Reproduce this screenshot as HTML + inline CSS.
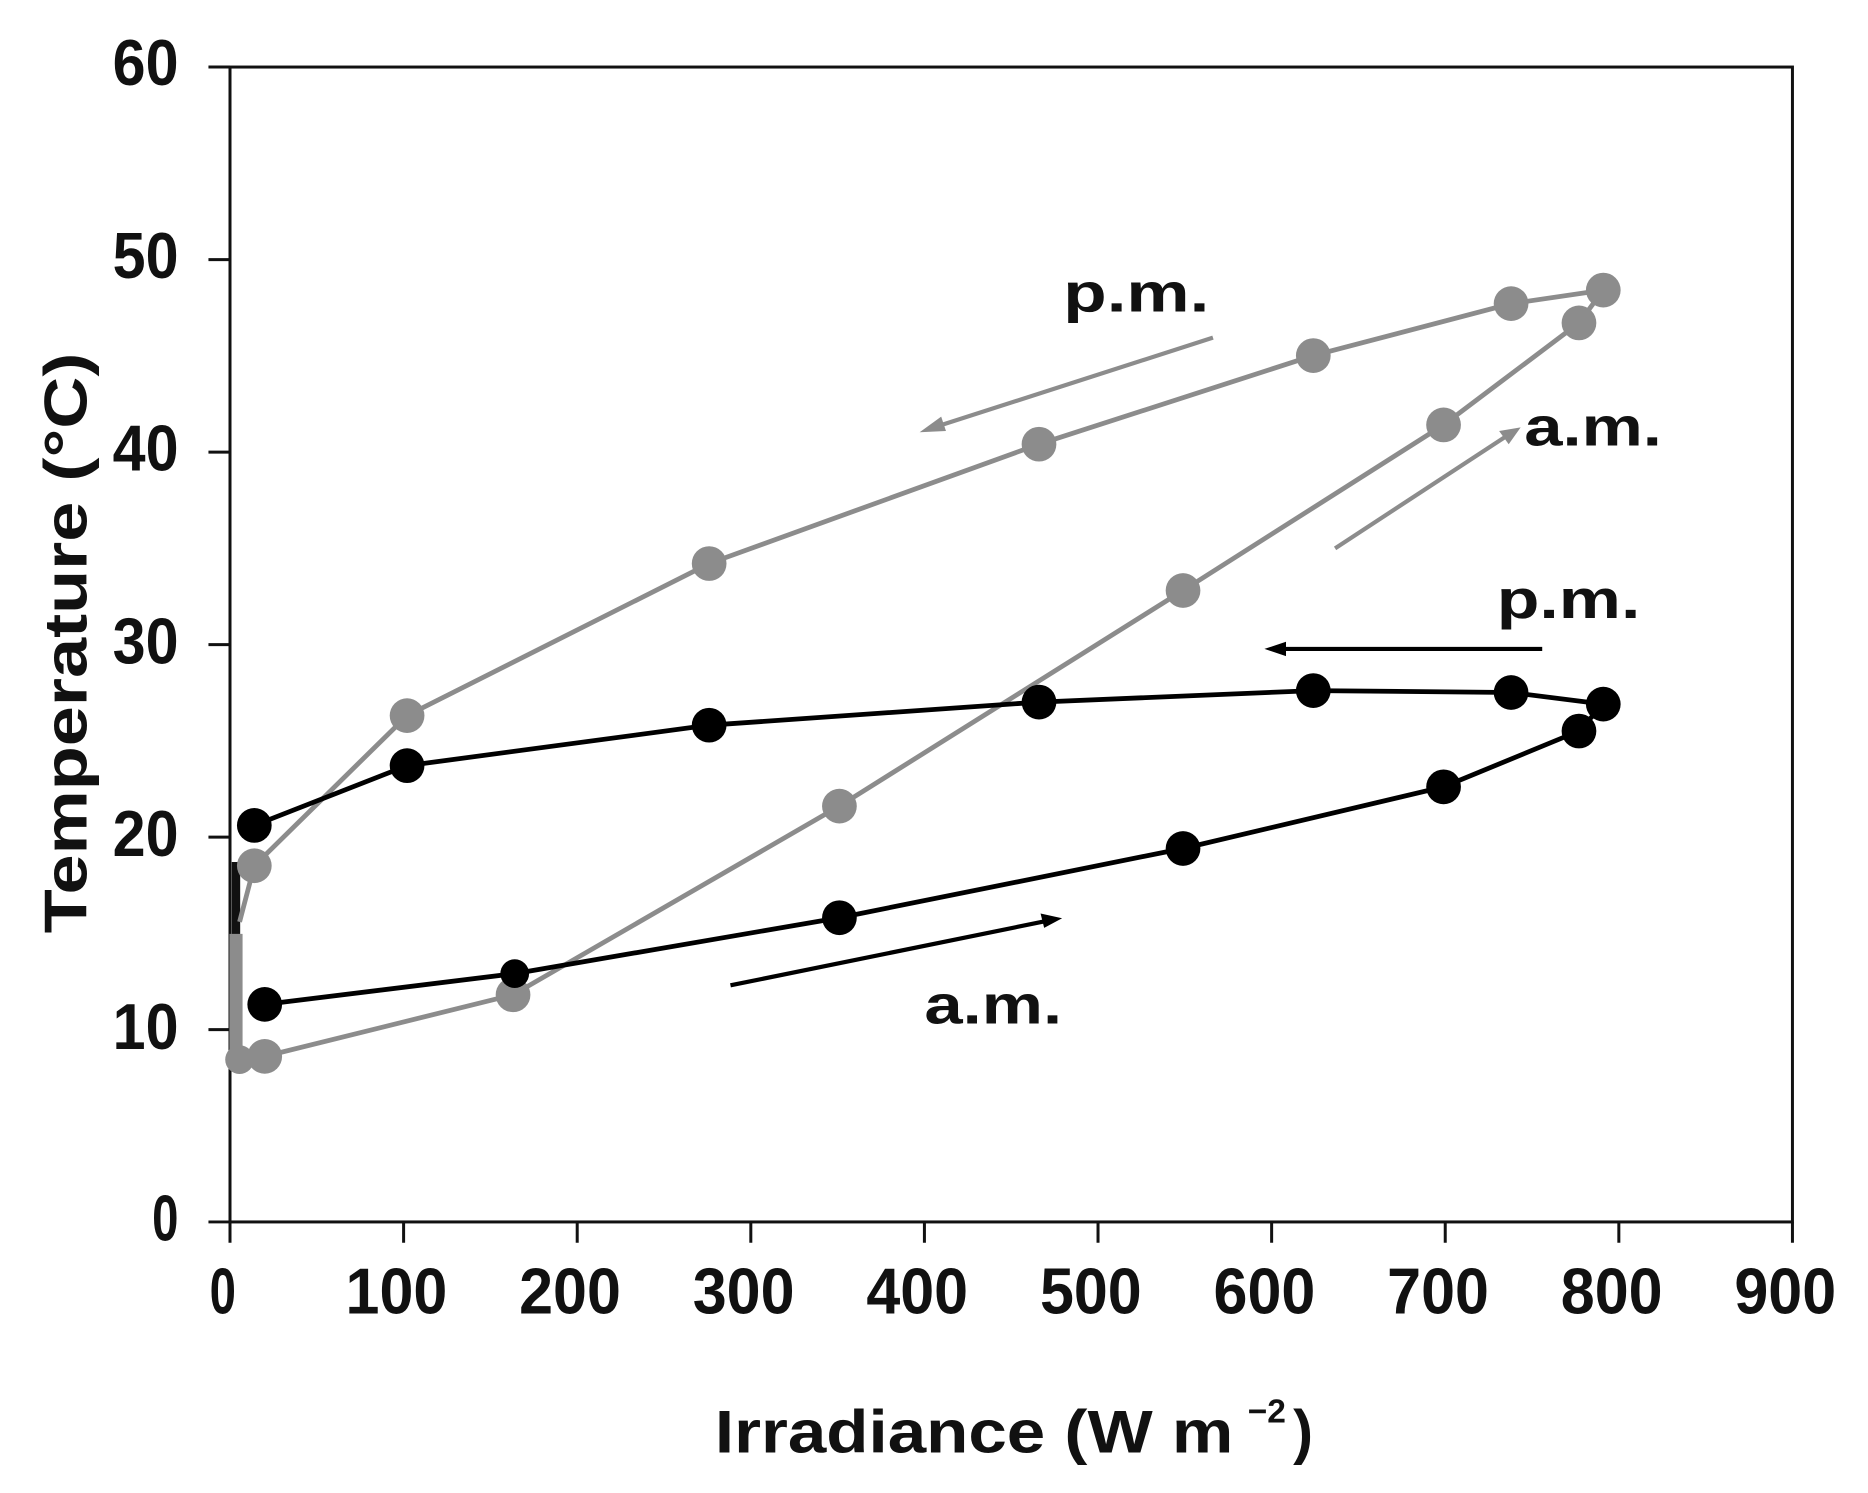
<!DOCTYPE html>
<html><head><meta charset="utf-8"><style>html,body{margin:0;padding:0;background:#fff}svg{display:block}</style></head>
<body>
<svg width="1868" height="1493" viewBox="0 0 1560 1247" xmlns="http://www.w3.org/2000/svg" font-family="Liberation Sans, sans-serif" font-weight="bold">
<rect width="1560" height="1247" fill="#fff"/>
<g stroke="#111" stroke-width="2.5" fill="none">
<rect x="192" y="56" width="1305" height="964.6"/>
<path d="M174 56H192M174 216.8H192M174 377.6H192M174 538.4H192M174 699.2H192M174 860H192M174 1020.6H192"/>
<path d="M192 1020.6V1038M337 1020.6V1038M482 1020.6V1038M627 1020.6V1038M772 1020.6V1038M917 1020.6V1038M1062 1020.6V1038M1207 1020.6V1038M1352 1020.6V1038M1497 1020.6V1038"/>
</g>
<g font-size="54" fill="#111" text-anchor="end">
<text x="149" y="71" textLength="55" lengthAdjust="spacingAndGlyphs">60</text>
<text x="149" y="232" textLength="55" lengthAdjust="spacingAndGlyphs">50</text>
<text x="149" y="393" textLength="55" lengthAdjust="spacingAndGlyphs">40</text>
<text x="149" y="554" textLength="55" lengthAdjust="spacingAndGlyphs">30</text>
<text x="149" y="715" textLength="55" lengthAdjust="spacingAndGlyphs">20</text>
<text x="149" y="876" textLength="55" lengthAdjust="spacingAndGlyphs">10</text>
<text x="149" y="1036" textLength="22" lengthAdjust="spacingAndGlyphs">0</text>
</g>
<g font-size="54" fill="#111" text-anchor="middle">
<text x="186" y="1097" textLength="22" lengthAdjust="spacingAndGlyphs">0</text>
<text x="331" y="1097" textLength="85" lengthAdjust="spacingAndGlyphs">100</text>
<text x="476" y="1097" textLength="85" lengthAdjust="spacingAndGlyphs">200</text>
<text x="621" y="1097" textLength="85" lengthAdjust="spacingAndGlyphs">300</text>
<text x="766" y="1097" textLength="85" lengthAdjust="spacingAndGlyphs">400</text>
<text x="911" y="1097" textLength="85" lengthAdjust="spacingAndGlyphs">500</text>
<text x="1056" y="1097" textLength="85" lengthAdjust="spacingAndGlyphs">600</text>
<text x="1201" y="1097" textLength="85" lengthAdjust="spacingAndGlyphs">700</text>
<text x="1346" y="1097" textLength="85" lengthAdjust="spacingAndGlyphs">800</text>
<text x="1491" y="1097" textLength="85" lengthAdjust="spacingAndGlyphs">900</text>
</g>
<text transform="translate(72,537) rotate(-90)" font-size="50" fill="#111" text-anchor="middle" textLength="485" lengthAdjust="spacingAndGlyphs">Temperature (°C)</text>
<text x="597" y="1213" font-size="50" fill="#111" textLength="433" lengthAdjust="spacingAndGlyphs">Irradiance (W  m</text>
<text x="1042" y="1188" font-size="28" fill="#111">−2</text>
<text x="1080" y="1213" font-size="50" fill="#111">)</text>
<!-- near-axis clusters -->
<path d="M197 720V800" stroke="#111" stroke-width="7"/>
<path d="M197 780V890" stroke="#8c8c8c" stroke-width="11"/>
<!-- gray series -->
<g stroke="#8c8c8c" stroke-width="4" fill="none">
<polyline points="200,885 221,882.3 428.4,830.9 701,673.3 988,493.2 1205.6,354.9 1318.7,269.7 1339,242.3"/>
<polyline points="1339,242.3 1262,253.6 1096.8,297 867.7,371 592.2,470.7 339.9,597.7 212.3,723.1 200,770"/>
</g>
<g fill="#8c8c8c">
<circle cx="221" cy="882.3" r="14.5"/><circle cx="428.4" cy="830.9" r="14.5"/><circle cx="701" cy="673.3" r="14.5"/><circle cx="988" cy="493.2" r="14.5"/><circle cx="1205.6" cy="354.9" r="14.5"/><circle cx="1318.7" cy="269.7" r="14.5"/><circle cx="1339" cy="242.3" r="14.5"/>
<circle cx="1262" cy="253.6" r="14.5"/><circle cx="1096.8" cy="297" r="14.5"/><circle cx="867.7" cy="371" r="14.5"/><circle cx="592.2" cy="470.7" r="14.5"/><circle cx="339.9" cy="597.7" r="14.5"/><circle cx="212.3" cy="723.1" r="14.5"/><circle cx="200" cy="885" r="12"/>
</g>
<!-- black series -->
<g stroke="#000" stroke-width="4" fill="none">
<polyline points="221,838.9 429.8,813.2 701,766.5 988,708.7 1205.6,657.2 1318.7,610.6 1339,588.1"/>
<polyline points="1339,588.1 1262,578.4 1096.8,576.8 867.7,586.4 592.2,605.7 339.9,639.5 212.3,689.4"/>
</g>
<g fill="#000">
<circle cx="221" cy="838.9" r="14.5"/><circle cx="429.8" cy="813.2" r="12"/><circle cx="701" cy="766.5" r="14.5"/><circle cx="988" cy="708.7" r="14.5"/><circle cx="1205.6" cy="657.2" r="14.5"/><circle cx="1318.7" cy="610.6" r="14.5"/><circle cx="1339" cy="588.1" r="14.5"/>
<circle cx="1262" cy="578.4" r="14.5"/><circle cx="1096.8" cy="576.8" r="14.5"/><circle cx="867.7" cy="586.4" r="14.5"/><circle cx="592.2" cy="605.7" r="14.5"/><circle cx="339.9" cy="639.5" r="14.5"/><circle cx="212.3" cy="689.4" r="14.5"/>
</g>
<!-- arrows -->
<g stroke-width="3.5" fill="none">
<path d="M1013 282L780 357" stroke="#8c8c8c"/>
<path d="M1115 458L1260 363" stroke="#8c8c8c"/>
<path d="M1288 542L1070 542" stroke="#000"/>
<path d="M610 823L875 769" stroke="#000"/>
</g>
<polygon points="768,361 786,348 790,360" fill="#8c8c8c"/>
<polygon points="1270,357 1252,360 1260,371" fill="#8c8c8c"/>
<polygon points="1056,542 1074,536 1074,548" fill="#000"/>
<polygon points="887,767 869,763 872,775" fill="#000"/>
<!-- labels -->
<g font-size="46" fill="#111">
<text x="888" y="260" textLength="122" lengthAdjust="spacingAndGlyphs">p.m.</text>
<text x="1273" y="372" textLength="115" lengthAdjust="spacingAndGlyphs">a.m.</text>
<text x="1250" y="516" textLength="120" lengthAdjust="spacingAndGlyphs">p.m.</text>
<text x="772" y="855" textLength="115" lengthAdjust="spacingAndGlyphs">a.m.</text>
</g>
</svg>
</body></html>
